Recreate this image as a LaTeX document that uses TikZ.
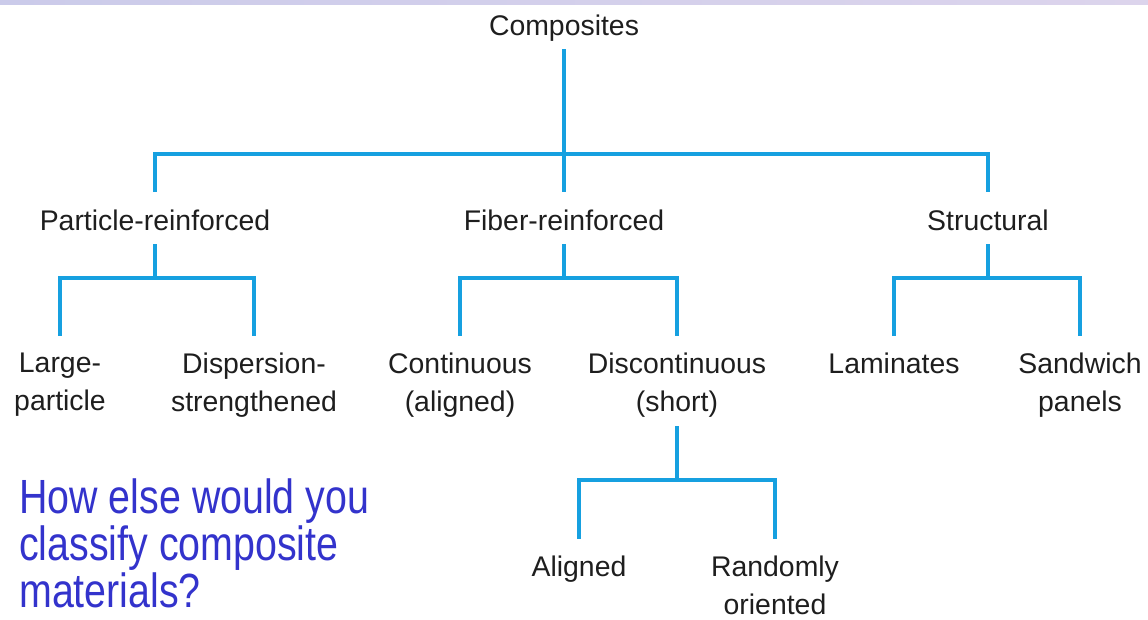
\documentclass[tikz,border=0pt]{standalone}
\usepackage{fontspec}
\setmainfont{Liberation Sans}
\newfontfamily\narrowfont[FakeStretch=0.82]{Liberation Sans}
\definecolor{linkblue}{RGB}{22,160,224}
\definecolor{qblue}{RGB}{51,51,204}
\definecolor{txt}{RGB}{30,30,30}
\definecolor{bandA}{RGB}{203,203,234}
\definecolor{bandB}{RGB}{220,212,236}
\begin{document}
\begin{tikzpicture}[x=0.75pt,y=-0.75pt,
  lbl/.style={inner sep=0pt, text=txt, font=\fontsize{21.3pt}{28.5pt}\selectfont},
  one/.style={lbl, anchor=base, text height=15.2pt, text depth=4.5pt},
  multi/.style={lbl, anchor=north, align=center},
  conn/.style={draw=linkblue, line width=3pt},
  fromabove/.style={shorten <=13pt, shorten >=13pt},
  frombelow/.style={shorten <=6pt}]
\useasboundingbox (0,0) rectangle (1148,619);
\fill[left color=bandA, right color=bandB] (0,0) rectangle (1148,4);

% nodes
\node[one] (comp) at (564,35) {Composites};
\node[one] (part) at (155,230) {Particle-reinforced};
\node[one] (fiber) at (564,230) {Fiber-reinforced};
\node[one] (struc) at (988,230) {Structural};

\node[multi] (large) at (60,353) {Large-\\particle};
\node[multi] (disp) at (254,353) {Dispersion-\\strengthened};
\node[multi] (cont) at (460,353) {Continuous\\(aligned)};
\node[multi] (disc) at (677,353) {Discontinuous\\(short)};
\node[multi] (lam) at (894,353) {Laminates};
\node[multi] (sand) at (1080,353) {Sandwich\\panels};

\node[multi] (alig) at (579,556) {Aligned};
\node[multi] (rand) at (775,556) {Randomly\\oriented};

\node[anchor=north west, align=left, inner sep=0pt, text=qblue,
      font=\narrowfont\fontsize{36pt}{35.25pt}\selectfont] (quest) at (19,478)
      {How else would you\\classify composite\\materials?};

% bus points
\coordinate (bus1) at (564,154);
\coordinate (pbus) at (155,278);
\coordinate (fbus) at (564,278);
\coordinate (sbus) at (988,278);
\coordinate (dbus) at (677,480);

% connectors
\draw[conn, shorten <=6pt, shorten >=13pt] (comp.south) -- (fiber.north);
\draw[conn, fromabove] (part.north) |- (bus1) -| (struc.north);

\draw[conn, frombelow] (part.south) -- (pbus);
\draw[conn, fromabove] (large.north) |- (pbus) -| (disp.north);

\draw[conn, frombelow] (fiber.south) -- (fbus);
\draw[conn, fromabove] (cont.north) |- (fbus) -| (disc.north);

\draw[conn, frombelow] (struc.south) -- (sbus);
\draw[conn, fromabove] (lam.north) |- (sbus) -| (sand.north);

\draw[conn, frombelow] (disc.south) -- (dbus);
\draw[conn, fromabove] (alig.north) |- (dbus) -| (rand.north);
\end{tikzpicture}
\end{document}
